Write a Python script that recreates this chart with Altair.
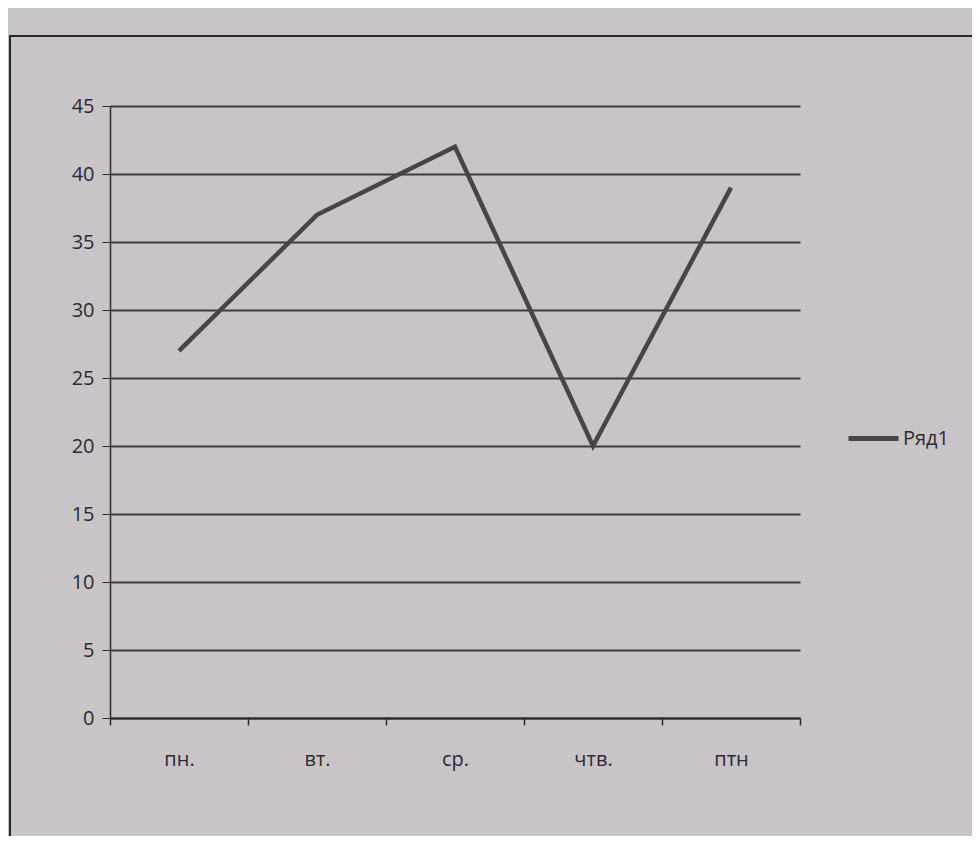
import altair as alt
import pandas as pd

days = ["пн.", "вт.", "ср.", "чтв.", "птн"]
values = [27, 37, 42, 20, 39]
series = ["Ряд1"] * 5
y_ticks = [0, 5, 10, 15, 20, 25, 30, 35, 40, 45]

df = pd.DataFrame({"day": days, "value": values, "series": series})

FONT = "Open Sans"
INK = "#2f2a2d"

border = alt.Chart(pd.DataFrame({"a": [0]})).mark_rect(
    fill=None, stroke="#2a2628", strokeWidth=2
).encode(
    x=alt.value(-100), x2=alt.value(866),
    y=alt.value(-70), y2=alt.value(732),
)

line = alt.Chart(df).mark_line(strokeWidth=4.5, color="#4a4448").encode(
    x=alt.X("day:N", sort=days, title=None,
            scale=alt.Scale(paddingInner=0, paddingOuter=0),
            axis=alt.Axis(labelAngle=0, labelPadding=24, labelFontSize=20,
                          labelFont=FONT, labelColor=INK, tickBand="extent",
                          tickSize=7, tickColor=INK, domainColor=INK,
                          domainWidth=2, tickWidth=1.5, grid=False)),
    y=alt.Y("value:Q", title=None,
            scale=alt.Scale(domain=[0, 45], nice=False),
            axis=alt.Axis(values=y_ticks, labelFontSize=20, labelFont=FONT,
                          labelColor=INK, labelPadding=8, tickSize=8,
                          tickColor=INK, domainColor=INK, domainWidth=1.5,
                          gridColor="#3f3a3d", gridWidth=1.8, gridOpacity=1)),
    color=alt.Color("series:N", scale=alt.Scale(range=["#4a4448"]),
                    legend=alt.Legend(title=None, orient="none", legendX=736,
                                      legendY=305, symbolType="stroke",
                                      symbolSize=2500, symbolStrokeWidth=5,
                                      labelFontSize=20, labelFont=FONT,
                                      labelColor=INK, labelOffset=2)),
)

chart = alt.layer(border, line).properties(
    width=690, height=612,
    background="#c9c4c8",
    autosize=alt.AutoSizeParams(type="none"),
    padding={"left": 102, "top": 98, "right": 172, "bottom": 118},
).configure_view(stroke=None)

chart.save("out.html", embed_options={"renderer": "svg", "actions": False})
